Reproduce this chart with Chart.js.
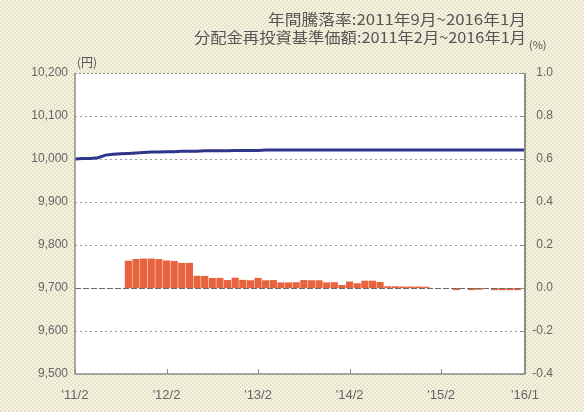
<!DOCTYPE html>
<html lang="ja">
<head>
<meta charset="UTF-8">
<title>基準価額と年間騰落率</title>
<script src="https://cdn.jsdelivr.net/npm/chart.js"></script>
<style>
  html, body { margin: 0; padding: 0; }
  body {
    width: 584px; height: 412px; overflow: hidden;
    background-color: #f1eed6;
    background-image: repeating-conic-gradient(#e5e2ce 0 25%, #f8f5de 0 50%);
    background-size: 4px 4px;
  }
  .chart-box { position: relative; width: 584px; height: 412px; }
</style>
</head>
<body>
<div class="chart-box"><canvas id="navChart" width="584" height="412"></canvas></div>
<script>
// monthly categories, 2011/02 .. 2016/01
const months = [
  '2011/02','2011/03','2011/04','2011/05','2011/06','2011/07','2011/08','2011/09','2011/10','2011/11','2011/12',
  '2012/01','2012/02','2012/03','2012/04','2012/05','2012/06','2012/07','2012/08','2012/09','2012/10','2012/11','2012/12',
  '2013/01','2013/02','2013/03','2013/04','2013/05','2013/06','2013/07','2013/08','2013/09','2013/10','2013/11','2013/12',
  '2014/01','2014/02','2014/03','2014/04','2014/05','2014/06','2014/07','2014/08','2014/09','2014/10','2014/11','2014/12',
  '2015/01','2015/02','2015/03','2015/04','2015/05','2015/06','2015/07','2015/08','2015/09','2015/10','2015/11','2015/12',
  '2016/01'
];

// 分配金再投資基準価額 (円)
const navValues = [
  10000,10001,10001,10003,10009,10011,10012,10013,10014,10015,10016,
  10016,10017,10017,10018,10018,10018,10019,10019,10019,10019,10020,
  10020,10020,10020,10021,10021,10021,10021,10021,10021,10021,10021,
  10021,10021,10021,10021,10021,10021,10021,10021,10021,10021,10021,
  10021,10021,10021,10021,10021,10021,10021,10021,10021,10021,10021,
  10021,10021,10021,10021,10021
];

// 年間騰落率 (%)
const returnRates = [
  null,null,null,null,null,null,null,0.127,0.135,0.137,0.137,
  0.135,0.128,0.126,0.117,0.117,0.057,0.056,0.047,0.047,0.037,0.048,
  0.038,0.036,0.047,0.036,0.037,0.026,0.026,0.027,0.037,0.036,0.036,
  0.026,0.027,0.014,0.030,0.022,0.034,0.034,0.028,0.008,0.008,0.007,
  0.007,0.007,0.006,null,null,null,-0.010,null,-0.010,-0.008,null,
  -0.010,-0.010,-0.010,-0.010,null
];

const xTickMonths = ['2011/02','2012/02','2013/02','2014/02','2015/02','2016/01'];
const xTickLabels = ["'11/2","'12/2","'13/2","'14/2","'15/2","'16/1"];

const titleLines = ['年間騰落率:2011年9月~2016年1月', '分配金再投資基準価額:2011年2月~2016年1月'];
const titleWidths = [258, 332];

const tickFont = { family: '"Liberation Sans", Arial, sans-serif', size: 12 };
const jpFont = '"Noto Sans CJK JP", sans-serif';

// white plot area, frame, zero line, inner ticks and header texts
const framePlugin = {
  id: 'frame',
  beforeDraw(chart) {
    const a = chart.chartArea, c = chart.ctx;
    c.save();
    c.fillStyle = '#ffffff';
    c.fillRect(a.left, a.top, a.right - a.left, a.bottom - a.top);
    c.restore();
  },
  afterDatasetsDraw(chart) {
    const a = chart.chartArea, c = chart.ctx;
    const y1 = chart.scales.y1, x = chart.scales.x;
    c.save();
    // zero line
    const zy = Math.round(y1.getPixelForValue(0)) + 0.5;
    c.strokeStyle = '#6a6a6a';
    c.lineWidth = 1;
    c.setLineDash([6, 2]);
    c.beginPath(); c.moveTo(a.left, zy); c.lineTo(a.right, zy); c.stroke();
    // top border dotted
    c.strokeStyle = '#8c8c8c';
    c.setLineDash([2, 2]);
    c.beginPath(); c.moveTo(a.left, a.top + 0.5); c.lineTo(a.right, a.top + 0.5); c.stroke();
    c.setLineDash([]);
    c.lineWidth = 1.5;
    c.beginPath();
    c.moveTo(a.left, a.top); c.lineTo(a.left, a.bottom); c.lineTo(a.right, a.bottom);
    c.stroke();
    c.lineWidth = 2;
    c.beginPath(); c.moveTo(a.right, a.top); c.lineTo(a.right, a.bottom); c.stroke();
    // inner ticks right
    c.lineWidth = 1;
    y1.ticks.forEach(t => {
      const ty = Math.round(y1.getPixelForValue(t.value)) + 0.5;
      c.beginPath(); c.moveTo(a.right - 5, ty); c.lineTo(a.right, ty); c.stroke();
    });
    // inner ticks bottom
    xTickMonths.forEach(m => {
      const tx = Math.round(x.getPixelForValue(months.indexOf(m))) + 0.5;
      c.beginPath(); c.moveTo(tx, a.bottom); c.lineTo(tx, a.bottom - 5); c.stroke();
    });
    // header texts
    c.fillStyle = '#555555';
    c.textBaseline = 'middle';
    c.textAlign = 'right';
    c.font = '15px ' + jpFont;
    titleLines.forEach((t, i) => {
      const w = c.measureText(t).width;
      c.save();
      c.translate(526, 19 + i * 18);
      c.scale(titleWidths[i] / w, 1);
      c.fillText(t, 0, 0);
      c.restore();
    });
    c.textAlign = 'left';
    c.font = '11px ' + jpFont;
    c.fillText('(%)', 529, 45);
    c.font = '12px ' + jpFont;
    c.fillText('(円)', 77, 62);
    c.restore();
  }
};

const ctx = document.getElementById('navChart').getContext('2d');
new Chart(ctx, {
  data: {
    labels: months,
    datasets: [
      {
        type: 'line',
        label: '分配金再投資基準価額',
        data: navValues,
        yAxisID: 'y',
        borderColor: '#2f3589',
        borderWidth: 3,
        pointRadius: 0,
        tension: 0,
        order: 0
      },
      {
        type: 'bar',
        label: '年間騰落率',
        data: returnRates,
        yAxisID: 'y1',
        backgroundColor: '#e8643e',
        barPercentage: 0.94,
        categoryPercentage: 1,
        order: 1
      }
    ]
  },
  options: {
    responsive: false,
    animation: false,
    layout: { padding: { top: 73, left: 0, right: 31, bottom: 0 } },
    plugins: {
      legend: { display: false },
      tooltip: { enabled: false },
      title: { display: false }
    },
    scales: {
      x: {
        type: 'category',
        offset: false,
        grid: { display: false, offset: false },
        border: { display: false },
        ticks: {
          autoSkip: false,
          maxRotation: 0,
          padding: 6,
          color: '#666666',
          font: { family: tickFont.family, size: 13 },
          callback: function (v, i) {
            const k = xTickMonths.indexOf(months[i]);
            return k >= 0 ? xTickLabels[k] : '';
          }
        },
        afterFit: s => { s.height = 38; }
      },
      y: {
        position: 'left',
        min: 9500,
        max: 10200,
        ticks: {
          stepSize: 100,
          padding: 7,
          color: '#666666',
          font: tickFont,
          callback: v => v.toLocaleString('en-US')
        },
        grid: {
          drawTicks: false,
          lineWidth: 1,
          color: c => ([9500, 9700, 10200].includes(c.tick && c.tick.value) ? 'rgba(0,0,0,0)' : '#9a9a9a')
        },
        border: { display: false, dash: [2, 3] },
        afterFit: s => { s.width = 75; }
      },
      y1: {
        position: 'right',
        min: -0.4,
        max: 1.0,
        ticks: {
          stepSize: 0.2,
          padding: 3,
          crossAlign: 'far',
          color: '#666666',
          font: tickFont,
          callback: v => (Math.abs(v) < 1e-9 ? 0 : Number(v)).toFixed(1)
        },
        grid: { display: false },
        border: { display: false },
        afterFit: s => { s.width = 28; }
      }
    }
  },
  plugins: [framePlugin]
});
</script>
</body>
</html>
